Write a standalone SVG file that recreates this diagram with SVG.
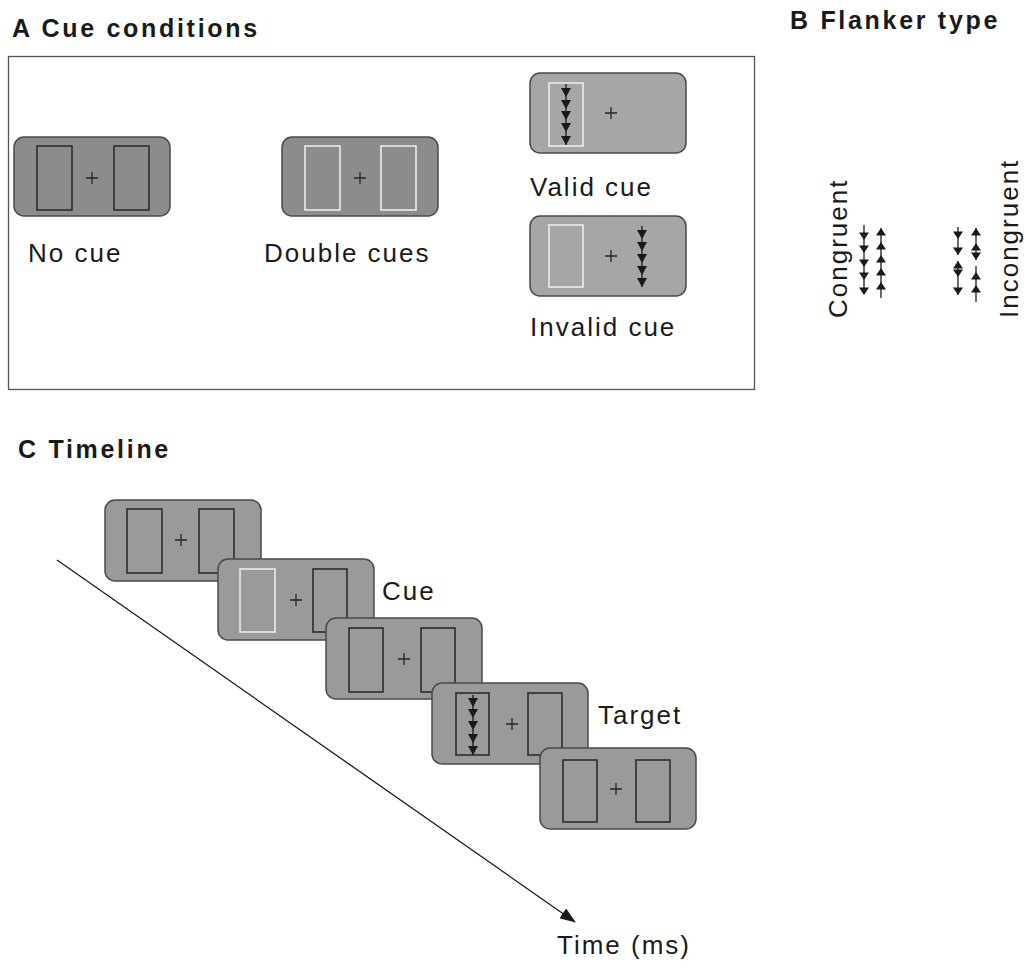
<svg xmlns="http://www.w3.org/2000/svg" width="1025" height="969" viewBox="0 0 1025 969">
<style>
.title{font-family:"Liberation Sans",Arial,sans-serif;font-weight:bold;font-size:25px;letter-spacing:2.7px;fill:#1a1a1a}
.lbl{font-family:"Liberation Sans",Arial,sans-serif;font-size:26px;letter-spacing:2px;fill:#1a1a1a}
.frame{fill:none;stroke:#555;stroke-width:1.3}
.cardA{fill:#8c8c8c;stroke:#4a4a4a;stroke-width:1.5}
.cardB{fill:#a6a6a6;stroke:#4a4a4a;stroke-width:1.5}
.cardC{fill:#9a9a9a;stroke:#4a4a4a;stroke-width:1.5}
.bx{fill:none;stroke:#262626;stroke-width:1.5}
.wbx{fill:none;stroke:#f0f0f0;stroke-width:1.5}
.plus{stroke:#262626;stroke-width:1.3;fill:none}
.shaft{stroke:#1a1a1a;stroke-width:1.3;fill:none}
.head{fill:#1a1a1a;stroke:none}
.conn{stroke:#1a1a1a;stroke-width:1.3;fill:none}
</style>
<defs>
<path id="plus" class="plus" d="M-6,0H6M0,-6V6"/>
<path id="dn" class="head" d="M-5,-9L5,-9L0,0Z"/>
<path id="sdn" class="head" d="M-5,-7.5L5,-7.5L0,0Z"/>
<path id="sup" class="head" d="M-5,7.5L5,7.5L0,0Z"/>
<marker id="arr" markerWidth="16" markerHeight="12" refX="15" refY="6" orient="auto" markerUnits="userSpaceOnUse">
<path d="M0,0L16,6L0,12Z" fill="#1a1a1a"/>
</marker>
</defs>
<rect width="1025" height="969" fill="#fff"/>

<text class="title" x="12" y="37">A Cue conditions</text>
<text class="title" x="790" y="29">B Flanker type</text>
<text class="title" x="18" y="458">C Timeline</text>

<rect class="frame" x="8.5" y="56.5" width="746" height="333"/>

<g id="no-cue" transform="translate(14,137)">
<rect class="cardA" x="0" y="0" width="156" height="79" rx="10"/>
<rect class="bx" x="23" y="9" width="35" height="64"/>
<rect class="bx" x="100" y="9" width="35" height="64"/>
<use href="#plus" x="78" y="41"/>
</g>
<text class="lbl" x="28" y="262">No cue</text>

<g id="double-cues" transform="translate(282,137)">
<rect class="cardA" x="0" y="0" width="156" height="79" rx="10"/>
<rect class="wbx" x="23" y="9" width="35" height="64"/>
<rect class="wbx" x="99" y="9" width="35" height="64"/>
<use href="#plus" x="78" y="41"/>
</g>
<text class="lbl" x="264" y="262">Double cues</text>

<g id="valid-cue" transform="translate(530,73)">
<rect class="cardB" x="0" y="0" width="156" height="80" rx="10"/>
<rect class="wbx" x="19" y="10" width="34" height="63"/>
<line class="shaft" x1="36" y1="11" x2="36" y2="72"/>
<use href="#dn" x="36" y="24"/>
<use href="#dn" x="36" y="36"/>
<use href="#dn" x="36" y="47"/>
<use href="#dn" x="36" y="59"/>
<use href="#dn" x="36" y="72"/>
<use href="#plus" x="81" y="40"/>
</g>
<text class="lbl" x="530" y="196">Valid cue</text>

<g id="invalid-cue" transform="translate(530,216)">
<rect class="cardB" x="0" y="0" width="156" height="80" rx="10"/>
<rect class="wbx" x="19" y="9" width="34" height="62"/>
<line class="shaft" x1="112" y1="10" x2="112" y2="71"/>
<use href="#dn" x="112" y="23"/>
<use href="#dn" x="112" y="35"/>
<use href="#dn" x="112" y="47"/>
<use href="#dn" x="112" y="59"/>
<use href="#dn" x="112" y="71"/>
<use href="#plus" x="81" y="40"/>
</g>
<text class="lbl" x="530" y="336">Invalid cue</text>

<g id="congruent">
<text class="lbl" transform="translate(847,318) rotate(-90)">Congruent</text>
<line class="shaft" x1="864" y1="225" x2="864" y2="294"/>
<use href="#sdn" x="864" y="240"/>
<use href="#sdn" x="864" y="253"/>
<use href="#sdn" x="864" y="267"/>
<use href="#sdn" x="864" y="280"/>
<use href="#sdn" x="864" y="295"/>
<line class="shaft" x1="881" y1="228" x2="881" y2="298"/>
<use href="#sup" x="881" y="228"/>
<use href="#sup" x="881" y="242"/>
<use href="#sup" x="881" y="255"/>
<use href="#sup" x="881" y="268"/>
<use href="#sup" x="881" y="282"/>
</g>

<g id="incongruent">
<text class="lbl" transform="translate(1018,318) rotate(-90)">Incongruent</text>
<line class="shaft" x1="958" y1="227" x2="958" y2="255"/>
<line class="shaft" x1="958" y1="261" x2="958" y2="295"/>
<use href="#sdn" x="958" y="239"/>
<use href="#sdn" x="958" y="255"/>
<use href="#sup" x="958" y="261"/>
<use href="#sdn" x="958" y="277"/>
<use href="#sdn" x="958" y="295"/>
<line class="shaft" x1="976" y1="228" x2="976" y2="260"/>
<line class="shaft" x1="976" y1="266" x2="976" y2="302"/>
<use href="#sup" x="976" y="228"/>
<use href="#sup" x="976" y="243"/>
<use href="#sdn" x="976" y="260"/>
<use href="#sup" x="976" y="272"/>
<use href="#sup" x="976" y="285"/>
</g>

<g id="connectors">
<line class="conn" x1="57" y1="560" x2="575" y2="922" marker-end="url(#arr)"/>
</g>

<g id="tl-1" transform="translate(105,500)">
<rect class="cardC" x="0" y="0" width="156" height="81" rx="10"/>
<rect class="bx" x="22" y="9" width="35" height="64"/>
<rect class="bx" x="94" y="9" width="35" height="64"/>
<use href="#plus" x="76" y="40"/>
</g>
<g id="tl-2" transform="translate(218,559)">
<rect class="cardC" x="0" y="0" width="156" height="81" rx="10"/>
<rect class="wbx" x="22" y="10" width="35" height="63"/>
<rect class="bx" x="95" y="10" width="34" height="63"/>
<use href="#plus" x="78" y="41"/>
</g>
<text class="lbl" x="382" y="600">Cue</text>
<g id="tl-3" transform="translate(326,618)">
<rect class="cardC" x="0" y="0" width="156" height="81" rx="10"/>
<rect class="bx" x="23" y="10" width="34" height="64"/>
<rect class="bx" x="95" y="10" width="34" height="64"/>
<use href="#plus" x="78" y="41"/>
</g>
<g id="tl-4" transform="translate(432,683)">
<rect class="cardC" x="0" y="0" width="156" height="81" rx="10"/>
<rect class="bx" x="24" y="10" width="33" height="62"/>
<line class="shaft" x1="41" y1="12" x2="41" y2="72"/>
<use href="#dn" x="41" y="24"/>
<use href="#dn" x="41" y="35"/>
<use href="#dn" x="41" y="47"/>
<use href="#dn" x="41" y="60"/>
<use href="#dn" x="41" y="72"/>
<rect class="bx" x="96" y="10" width="34" height="62"/>
<use href="#plus" x="80" y="41"/>
</g>
<text class="lbl" x="598" y="724">Target</text>
<g id="tl-5" transform="translate(540,748)">
<rect class="cardC" x="0" y="0" width="156" height="81" rx="10"/>
<rect class="bx" x="23" y="12" width="34" height="62"/>
<rect class="bx" x="96" y="12" width="34" height="62"/>
<use href="#plus" x="76" y="41"/>
</g>

<text class="lbl" x="557" y="954">Time (ms)</text>
</svg>
